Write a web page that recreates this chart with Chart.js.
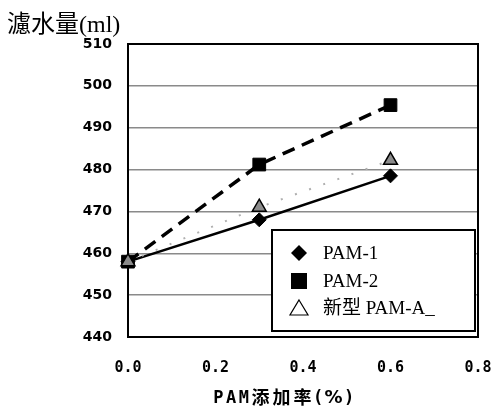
<!DOCTYPE html>
<html><head><meta charset="utf-8">
<script src="https://cdn.jsdelivr.net/npm/chart.js@4.4.0/dist/chart.umd.min.js"></script>
<style>html,body{margin:0;padding:0;background:#fff;}#wrap{width:493px;height:409px;}</style>
</head><body><div id="wrap"><canvas id="c" width="493" height="409"></canvas></div>
<script>
const xValues = [0, 0.3, 0.6];
const pam1 = [458, 468, 478.5];
const pam2 = [458, 481.2, 495.4];
const pamA = [458, 471, 482.2];
const seriesLabels = ['PAM-1', 'PAM-2', '新型 PAM-A_'];
const yTitle = '濾水量(ml)';
const xTitle = 'PAM添加率(%)';
const xTicks = [0, 0.2, 0.4, 0.6, 0.8];
const yTicks = [440, 450, 460, 470, 480, 490, 500, 510];

const pts = arr => arr.map((v, i) => ({x: xValues[i], y: v}));

const framePlugin = {
  id: 'frame',
  beforeDatasetsDraw(chart) {
    const {ctx, chartArea: a} = chart;
    ctx.save();
    ctx.strokeStyle = '#000'; ctx.lineWidth = 2;
    ctx.strokeRect(a.left, a.top, a.right - a.left, a.bottom - a.top);
    ctx.restore();
  },
  afterDraw(chart) {
    const {ctx, chartArea: a} = chart;
    ctx.save();
    // y title
    ctx.fillStyle = '#000';
    ctx.font = '24px "Liberation Serif", "Noto Sans CJK SC", serif';
    ctx.textBaseline = 'alphabetic'; ctx.textAlign = 'left';
    ctx.fillText(yTitle, 7, 32);
    // x title with per-character advance
    const chars = Array.from(xTitle);
    const adv = ch => /[A-Za-z]/.test(ch) ? 12.7 : (ch === '%' ? 21 : (/[()]/.test(ch) ? 10 : 21));
    const fontFor = ch => ch === '%' ? 'bold 18px "DejaVu Sans", sans-serif'
      : (/[A-Za-z()]/.test(ch) ? 'bold 17px "DejaVu Sans Mono", monospace' : 'bold 18px "Noto Sans CJK SC", sans-serif');
    let x = a.left + 84;
    ctx.textBaseline = 'alphabetic'; ctx.textAlign = 'center';
    for (const ch of chars) {
      ctx.font = fontFor(ch);
      const yb = /[A-Za-z()%]/.test(ch) ? 403 : 404;
      ctx.fillText(ch, x + adv(ch) / 2, yb); x += adv(ch);
    }
    // legend
    const bw = 203, bh = 101;
    const bx = a.right - 3 - bw, by = a.bottom - 6 - bh;
    ctx.fillStyle = '#fff'; ctx.fillRect(bx, by, bw, bh);
    ctx.strokeStyle = '#000'; ctx.lineWidth = 2; ctx.strokeRect(bx, by, bw, bh);
    const rows = [23, 51, 78];
    ctx.font = '19px "Liberation Serif", "Noto Sans CJK SC", serif';
    ctx.textBaseline = 'middle'; ctx.textAlign = 'left';
    seriesLabels.forEach((lab, i) => {
      const my = by + rows[i], mx = bx + 27;
      ctx.fillStyle = '#000'; ctx.strokeStyle = '#000';
      ctx.beginPath();
      if (i === 0) {
        ctx.moveTo(mx, my - 8); ctx.lineTo(mx + 8, my); ctx.lineTo(mx, my + 8); ctx.lineTo(mx - 8, my); ctx.closePath(); ctx.fill();
      } else if (i === 1) {
        ctx.rect(mx - 8, my - 8, 16, 16); ctx.fill();
      } else {
        ctx.lineWidth = 1.2;
        ctx.moveTo(mx, my - 8); ctx.lineTo(mx + 9, my + 7); ctx.lineTo(mx - 9, my + 7); ctx.closePath(); ctx.stroke();
      }
      ctx.fillStyle = '#000';
      ctx.fillText(lab, bx + 51, my + 1);
    });
    ctx.restore();
  }
};

new Chart(document.getElementById('c'), {
  type: 'line',
  data: {
    datasets: [
      {label: seriesLabels[0], data: pts(pam1), borderColor: '#000', borderWidth: 2.5, pointStyle: 'rectRot', pointRadius: 7, pointBackgroundColor: '#000', pointBorderColor: '#000', pointBorderWidth: 1, order: 1, clip: false},
      {label: seriesLabels[1], data: pts(pam2), borderColor: '#000', borderWidth: 3.5, borderDash: [13, 8], pointStyle: 'rect', pointRadius: 9, pointBackgroundColor: '#000', pointBorderColor: '#000', pointBorderWidth: 1, order: 2, clip: false},
      {label: seriesLabels[2], data: pts(pamA), borderColor: '#b0b0b0', borderWidth: 2, borderDash: [2, 13], pointStyle: 'triangle', pointRadius: 8, pointBackgroundColor: '#8c8c8c', pointBorderColor: '#000', pointBorderWidth: 1.5, order: 0, clip: false}
    ]
  },
  options: {
    responsive: false, animation: false, devicePixelRatio: 1,
    layout: {padding: {top: 44, right: 0, bottom: 0, left: 0}},
    plugins: {legend: {display: false}, tooltip: {enabled: false}, title: {display: false}},
    scales: {
      x: {
        type: 'linear', min: 0, max: 0.8,
        afterBuildTicks: s => { s.ticks = xTicks.map(v => ({value: v})); },
        afterFit: s => { s.height = 72; s.paddingRight = 15; },
        grid: {display: false, drawTicks: false},
        border: {display: true, color: '#000', width: 2},
        ticks: {padding: 22, color: '#000', font: {family: '"DejaVu Sans Mono", monospace', size: 15, weight: 'bold'}, callback: v => Number(v).toFixed(1)}
      },
      y: {
        min: 440, max: 510,
        afterBuildTicks: s => { s.ticks = yTicks.map(v => ({value: v})); },
        afterFit: s => { s.width = 128; },
        grid: {color: '#8a8a8a', lineWidth: 1.5, drawTicks: false},
        border: {display: true, color: '#000', width: 2},
        ticks: {padding: 16, color: '#000', font: {family: '"DejaVu Sans", sans-serif', size: 14, weight: 'bold'}}
      }
    }
  },
  plugins: [framePlugin]
});
</script></body></html>
